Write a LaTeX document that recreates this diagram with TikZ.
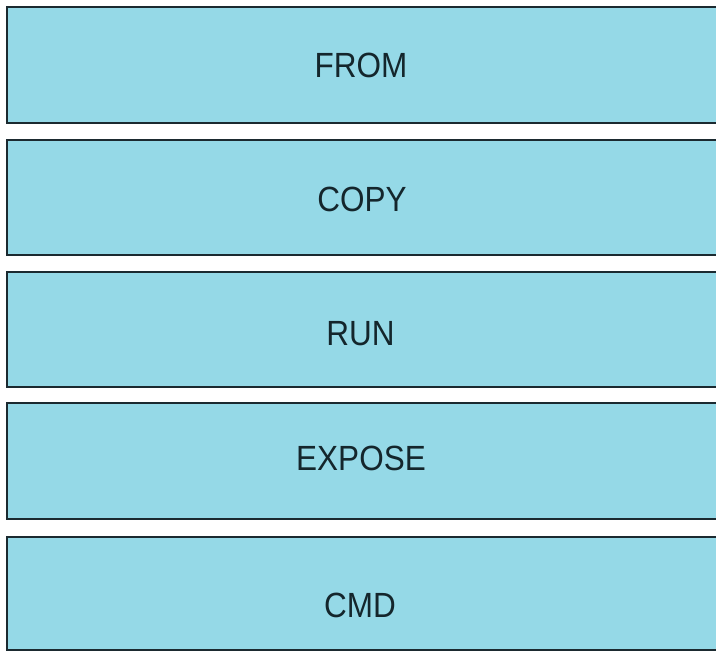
\documentclass[tikz,border=0pt]{standalone}
\usepackage{fontspec}
\setmainfont{Liberation Sans}
\definecolor{boxfill}{HTML}{95D9E7}
\definecolor{boxline}{HTML}{1B2A30}
\definecolor{txt}{HTML}{14262C}
\begin{document}
\begin{tikzpicture}[x=1pt,y=-1pt,
  layer/.style={draw=boxline, line width=2pt, fill=boxfill, minimum width=714pt, inner sep=0pt, outer sep=0pt},
  lbl/.style={anchor=base, inner sep=0pt, text=txt, font=\fontsize{35}{35}\selectfont}]
\useasboundingbox (0,0) rectangle (716,652);
\clip (0,0) rectangle (716,652);
\fill[white] (0,0) rectangle (716,652);
\node[layer, minimum height=116pt] (b1) at (364,65) {};
\node[layer, minimum height=115pt] (b2) at (364,197.5) {};
\node[layer, minimum height=115pt] (b3) at (364,329.5) {};
\node[layer, minimum height=116pt] (b4) at (364,461) {};
\node[layer, minimum height=113pt] (b5) at (364,593.5) {};
\node[lbl] (t1) at (361,78) {\scalebox{0.9}[1]{FROM}};
\node[lbl] (t2) at (362,212) {\scalebox{0.9}[1]{COPY}};
\node[lbl] (t3) at (360.5,346) {\scalebox{0.9}[1]{RUN}};
\node[lbl] (t4) at (361,471) {\scalebox{0.9}[1]{EXPOSE}};
\node[lbl] (t5) at (360,618) {\scalebox{0.9}[1]{CMD}};
\end{tikzpicture}
\end{document}
